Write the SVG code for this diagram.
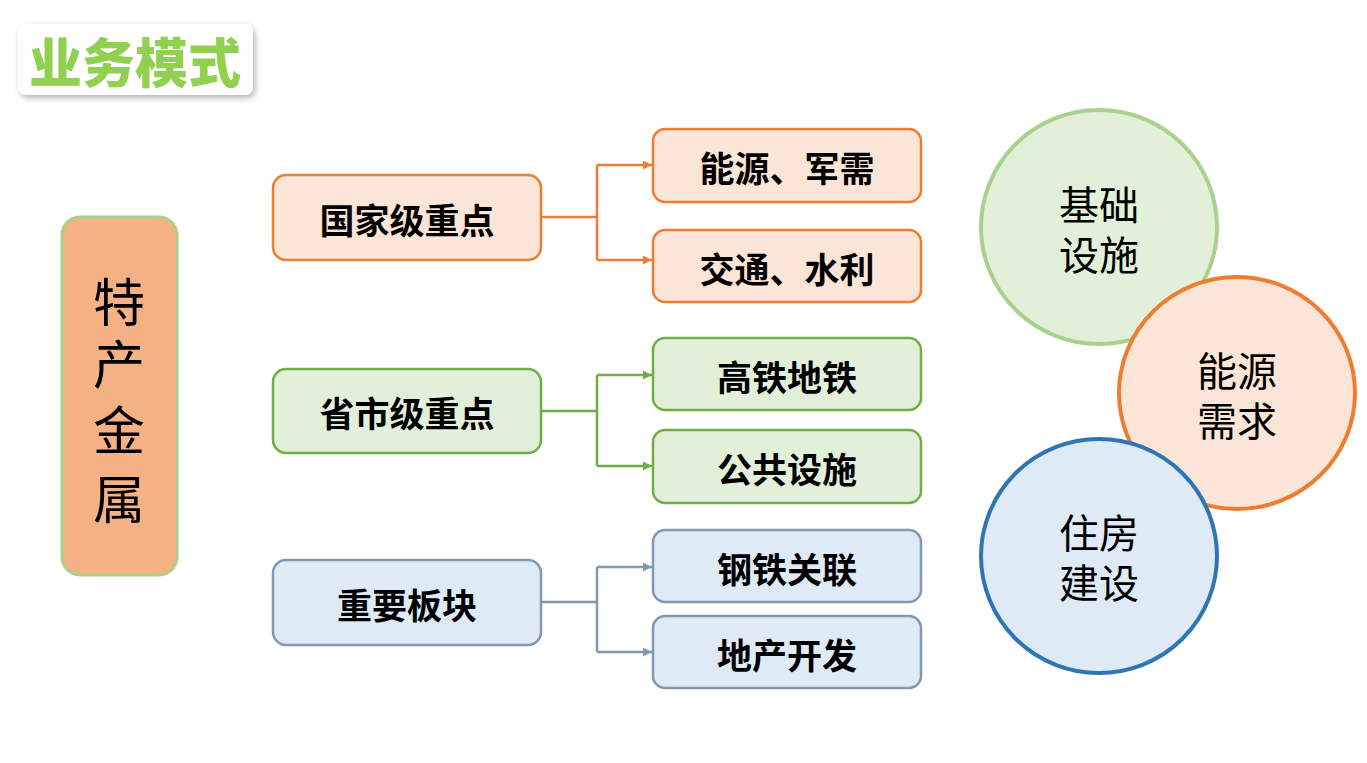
<svg xmlns="http://www.w3.org/2000/svg" width="1367" height="763" viewBox="0 0 1367 763">
<style>
.bold{font-family:"Noto Sans CJK SC","Noto Sans",sans-serif;font-weight:700;font-size:35px;fill:#000;text-anchor:middle;dominant-baseline:central}
.big{font-family:"Noto Sans CJK SC","Noto Sans",sans-serif;font-weight:400;font-size:52px;fill:#000;text-anchor:middle;dominant-baseline:central}
.circ{font-family:"Noto Sans CJK SC","Noto Sans",sans-serif;font-weight:400;font-size:40px;fill:#000;text-anchor:middle;dominant-baseline:central}
.o{fill:#FBE5D6;stroke:#ED7D31;stroke-width:2.5}
.g{fill:#E2F0D9;stroke:#70AD47;stroke-width:2.5}
.b{fill:#DEEBF7;stroke:#8497B0;stroke-width:2.5}
</style>
<defs>
<filter id="sh" x="-10%" y="-10%" width="130%" height="140%">
<feDropShadow dx="2" dy="3" stdDeviation="3" flood-color="#000" flood-opacity="0.3"/>
</filter>
<marker id="ao" viewBox="0 0 10 10" refX="10" refY="5" markerWidth="9" markerHeight="9" markerUnits="userSpaceOnUse" orient="auto"><path d="M0,0 L10,5 L0,10 z" fill="#ED7D31"/></marker>
<marker id="ag" viewBox="0 0 10 10" refX="10" refY="5" markerWidth="9" markerHeight="9" markerUnits="userSpaceOnUse" orient="auto"><path d="M0,0 L10,5 L0,10 z" fill="#70AD47"/></marker>
<marker id="ab" viewBox="0 0 10 10" refX="10" refY="5" markerWidth="9" markerHeight="9" markerUnits="userSpaceOnUse" orient="auto"><path d="M0,0 L10,5 L0,10 z" fill="#8497B0"/></marker>
</defs>
<rect width="1367" height="763" fill="#fff"/>

<g id="title">
<rect x="18" y="24" width="235" height="71" rx="8" fill="#fff" filter="url(#sh)"/>
<text x="135" y="60" style="font-family:'Noto Sans CJK SC',sans-serif;font-weight:900;font-size:53px;fill:#92D050;text-anchor:middle;dominant-baseline:central">业务模式</text>
</g>

<g id="main">
<rect x="62" y="217" width="115" height="358" rx="18" fill="#F4B183" stroke="#A9D18E" stroke-width="3"/>
<text class="big" x="119" y="299">特</text>
<text class="big" x="119" y="361">产</text>
<text class="big" x="119" y="427">金</text>
<text class="big" x="119" y="496">属</text>
</g>

<g id="connectors" fill="none" stroke-width="2.5">
<path d="M541,217 H597 M597,165 V260" stroke="#ED7D31"/>
<path d="M597,165 H652" stroke="#ED7D31" marker-end="url(#ao)"/>
<path d="M597,260 H652" stroke="#ED7D31" marker-end="url(#ao)"/>
<path d="M541,411 H597 M597,375 V466" stroke="#70AD47"/>
<path d="M597,375 H652" stroke="#70AD47" marker-end="url(#ag)"/>
<path d="M597,466 H652" stroke="#70AD47" marker-end="url(#ag)"/>
<path d="M541,602 H597 M597,567 V652" stroke="#8497B0"/>
<path d="M597,567 H652" stroke="#8497B0" marker-end="url(#ab)"/>
<path d="M597,652 H652" stroke="#8497B0" marker-end="url(#ab)"/>
</g>

<g id="n-guojia"><rect class="o" x="273" y="175" width="268" height="85" rx="13"/><text class="bold" x="407" y="218">国家级重点</text></g>
<g id="n-nengyuan"><rect class="o" x="653" y="129" width="268" height="73" rx="12"/><text class="bold" x="787" y="166">能源、军需</text></g>
<g id="n-jiaotong"><rect class="o" x="653" y="230" width="268" height="72" rx="12"/><text class="bold" x="787" y="267">交通、水利</text></g>

<g id="n-shengshi"><rect class="g" x="273" y="369" width="268" height="84" rx="13"/><text class="bold" x="407" y="411">省市级重点</text></g>
<g id="n-gaotie"><rect class="g" x="653" y="338" width="268" height="72" rx="12"/><text class="bold" x="787" y="375">高铁地铁</text></g>
<g id="n-gonggong"><rect class="g" x="653" y="430" width="268" height="73" rx="12"/><text class="bold" x="787" y="467">公共设施</text></g>

<g id="n-zhongyao"><rect class="b" x="273" y="560" width="268" height="85" rx="13"/><text class="bold" x="407" y="603">重要板块</text></g>
<g id="n-gangtie"><rect class="b" x="653" y="530" width="268" height="72" rx="12"/><text class="bold" x="787" y="567">钢铁关联</text></g>
<g id="n-dichan"><rect class="b" x="653" y="616" width="268" height="72" rx="12"/><text class="bold" x="787" y="653">地产开发</text></g>

<g id="c-jichu"><ellipse cx="1099" cy="227" rx="118" ry="117" fill="#E2F0D9" stroke="#A9D18E" stroke-width="4"/><text class="circ" x="1099" y="203">基础</text><text class="circ" x="1099" y="253">设施</text></g>
<g id="c-nengyuan"><ellipse cx="1237" cy="393" rx="118" ry="116" fill="#FBE5D6" stroke="#ED7D31" stroke-width="4"/><text class="circ" x="1237" y="369">能源</text><text class="circ" x="1237" y="419">需求</text></g>
<g id="c-zhufang"><ellipse cx="1099" cy="556" rx="118" ry="117" fill="#DEEBF7" stroke="#2E75B6" stroke-width="4"/><text class="circ" x="1099" y="531">住房</text><text class="circ" x="1099" y="581">建设</text></g>
</svg>
